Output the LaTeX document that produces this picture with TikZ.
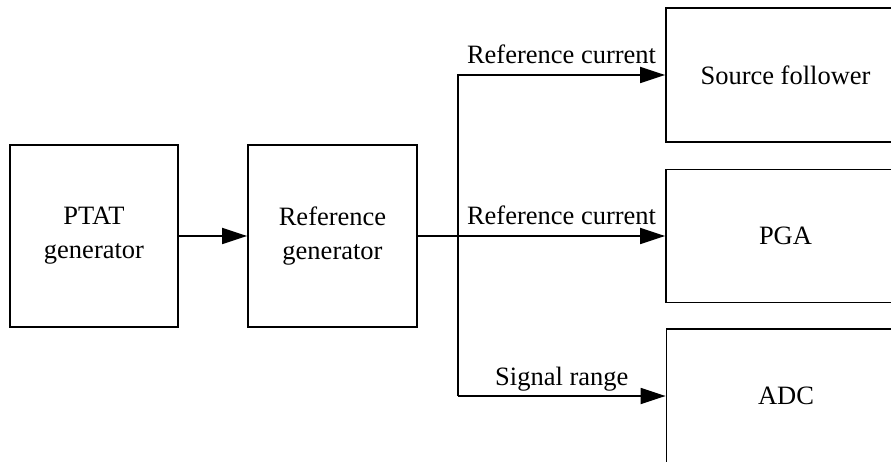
\documentclass[tikz,border=0pt]{standalone}
\usepackage{fontspec}
\setmainfont{Liberation Serif}
\usetikzlibrary{arrows.meta}
\begin{document}
\begin{tikzpicture}[x=1pt,y=-1pt,
  blk/.style={draw=black, line width=1.8pt, fill=white, align=center, inner sep=0pt,
    font=\fontsize{26.5}{34}\selectfont},
  conn/.style={draw=black, line width=1.8pt, -{Triangle[length=25pt,width=16pt]}},
  lbl/.style={midway, anchor=base, yshift=11pt, inner sep=0pt, font=\fontsize{26.5}{34}\selectfont}]
\useasboundingbox (0,0) rectangle (891,462);
\clip (0,0) rectangle (891,462);
\node[blk, minimum width=168pt, minimum height=182pt] (ptat) at (94,236) {PTAT\\generator};
\node[blk, minimum width=169pt, minimum height=182pt] (ref) at (332.5,236) {Reference\\generator};
\node[blk, minimum width=239pt, minimum height=134pt] (sf) at (785.5,75) {Source follower};
\node[blk, minimum width=239pt, minimum height=133pt] (pga) at (785.5,236) {PGA};
\node[blk, minimum width=239pt, minimum height=134pt] (adc) at (786,396) {ADC};
\coordinate (tr) at (458,0);
\draw[conn] (ptat.east) -- (ref.west);
\draw[conn] (ref.east) -- (pga.west);
\path (tr |- pga.west) -- (pga.west) node[lbl] {Reference current};
\draw[conn] (tr |- adc.west) -- (tr |- sf.west) -- (sf.west) node[lbl] {Reference current};
\draw[conn] (tr |- adc.west) -- (adc.west) node[lbl] {Signal range};
\end{tikzpicture}
\end{document}
